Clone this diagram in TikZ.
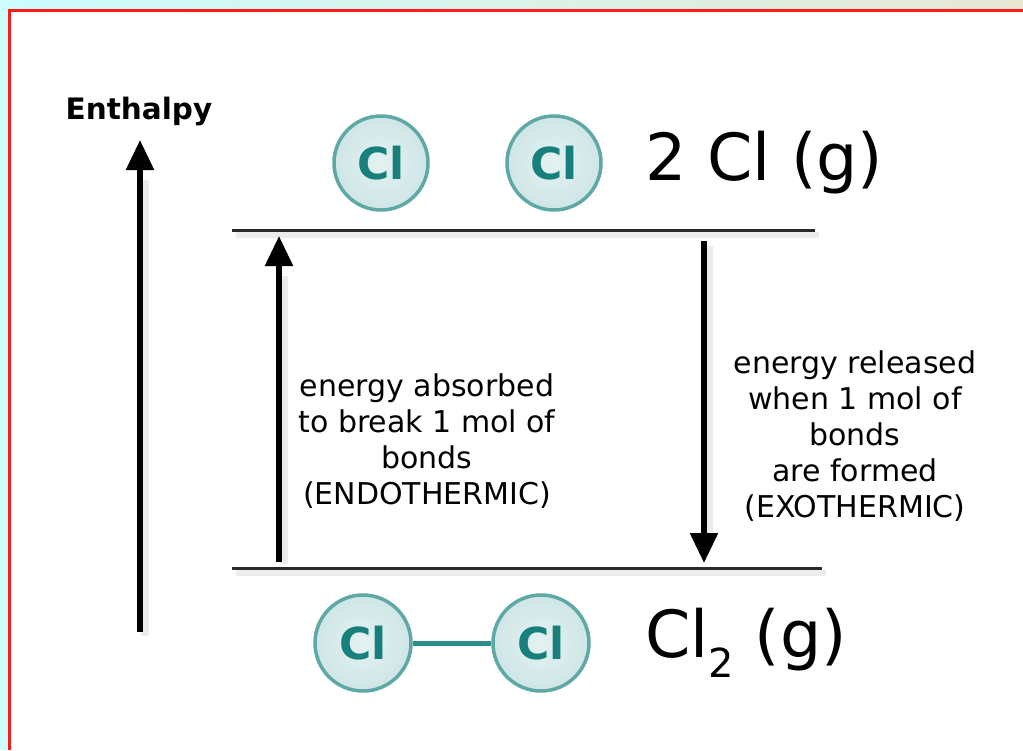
\documentclass[tikz,border=0pt]{standalone}
\usepackage{fontspec}
\setmainfont{DejaVu Sans}
\usetikzlibrary{arrows.meta}
\definecolor{bgcyan}{HTML}{CCFCFC}
\definecolor{bgbeige}{HTML}{E8E8D6}
\definecolor{framered}{HTML}{FF1A1A}
\definecolor{atomfill}{HTML}{CFE6E6}
\definecolor{atomedge}{HTML}{5EA8A5}
\definecolor{atomtext}{HTML}{17807C}
\definecolor{levelgray}{HTML}{2A2A2A}
\definecolor{shadowgray}{HTML}{ECECEC}
\tikzset{
  atom/.style={circle, draw=atomedge, line width=3.5pt, inner color=white!45!atomfill, outer color=atomfill,
    minimum size=94pt, inner sep=0pt, text=atomtext, font=\fontsize{44}{44}\selectfont\bfseries},
  level/.style={draw=levelgray, line width=3pt},
  bigarrow/.style={line width=5.5pt, -{Triangle[length=30pt,width=27pt]}},
  shadowline/.style={draw=shadowgray, line width=8pt},
  label/.style={align=center, font=\fontsize{30}{36}\selectfont},
  species/.style={anchor=west, inner sep=0pt, font=\fontsize{65}{65}\selectfont},
}
\begin{document}
\begin{tikzpicture}[x=1pt,y=-1pt]
\useasboundingbox (0,0) rectangle (1023,750);
% background
\fill[bgcyan] (0,0) rectangle (1023,750);
\shade[left color=bgcyan, right color=bgbeige] (0,0) rectangle (1023,9);
\fill[white] (9,10) rectangle (1023,750);
\draw[framered, line width=3pt] (9,750) -- (9,10) -- (1023,10);

% enthalpy axis
\node[font=\fontsize{29.5}{29.5}\selectfont\bfseries] (enth) at (139,111) {Enthalpy};
\coordinate (axbot) at (140,632);
\coordinate (axtop) at (140,140);
\draw[shadowline] ([xshift=5pt,yshift=-4pt]axbot) -- ([xshift=5pt,yshift=-40pt]axtop);
\draw[line width=5.5pt, -{Triangle[length=30pt,width=27pt]}] (axbot) -- (axtop);

% levels
\coordinate (t1) at (232,230); \coordinate (t2) at (815,230);
\coordinate (b1) at (232,568); \coordinate (b2) at (822,568);
\draw[shadowline, line width=6pt] ([xshift=4pt,yshift=-5pt]t1) -- ([xshift=4pt,yshift=-5pt]t2);
\draw[shadowline, line width=6pt] ([xshift=4pt,yshift=-5pt]b1) -- ([xshift=4pt,yshift=-5pt]b2);
\draw[level] (t1) -- (t2);
\draw[level] (b1) -- (b2);

% atoms top
\node[atom] (a1) at (381,163) {Cl};
\node[atom] (a2) at (554,163) {Cl};
\node[species] (top) at (645,163) {2 Cl (g)};

% atoms bottom
\node[atom, minimum size=96pt] (m1) at (363,643) {Cl};
\node[atom, minimum size=96pt] (m2) at (541,643) {Cl};
\draw[atomtext!70!atomedge, line width=5pt] (m1) -- (m2);
\node[species] (bot) at (645,643) {Cl\raisebox{-0.3em}{\fontsize{40}{40}\selectfont 2} (g)};

% arrows
\coordinate (ua) at (279,562); \coordinate (ub) at (279,236);
\draw[shadowline] ([xshift=5pt,yshift=-2pt]ua) -- ([xshift=5pt,yshift=-40pt]ub);
\draw[bigarrow] (ua) -- (ub);
\coordinate (da) at (704,241); \coordinate (db) at (704,563);
\draw[shadowline] ([xshift=5pt,yshift=-5pt]da) -- ([xshift=5pt,yshift=30pt]db);
\draw[bigarrow] (da) -- (db);

% labels
\node[label] (endo) at (427,441) {energy absorbed\\to break 1 mol of\\bonds\\(ENDOTHERMIC)};
\node[label] (exo) at (855,436) {energy released\\when 1 mol of\\bonds\\are formed\\(EXOTHERMIC)};
\end{tikzpicture}
\end{document}
